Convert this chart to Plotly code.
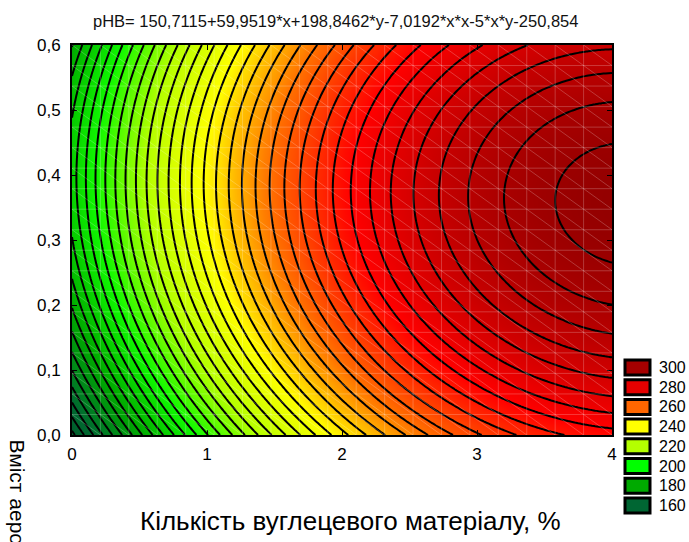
import numpy as np
import plotly.graph_objects as go

# Regression coefficients
coef_names = ["b0", "x", "y", "x*x", "x*y", "y*y"]
coef_values = [150.7115, 59.9519, 198.8462, -7.0192, -5.0, -250.854]

x_range = [0, 4]
y_range = [0, 0.6]
x_ticks = [0, 1, 2, 3, 4]
y_ticks = [0.0, 0.1, 0.2, 0.3, 0.4, 0.5, 0.6]

legend_levels = [300, 280, 260, 240, 220, 200, 180, 160]
legend_colors = ["#a50000", "#e60000", "#ff6600", "#ffff00",
                 "#b4ff00", "#00ff00", "#00aa00", "#006633"]

title_text = "pHB= 150,7115+59,9519*x+198,8462*y-7,0192*x*x-5*x*y-250,854"
x_title = "Кількість вуглецевого матеріалу, %"
y_title = "Вміст аеросилу, %"

mesh_n = 19  # mesh cells of the fitted surface (faint white lines)

xs = np.linspace(x_range[0], x_range[1], 161)
ys = np.linspace(y_range[0], y_range[1], 121)
X, Y = np.meshgrid(xs, ys)
b0, bx, by, bxx, bxy, byy = coef_values
Z = b0 + bx * X + by * Y + bxx * X * X + bxy * X * Y + byy * Y * Y

zmin, zmax = 150, 310
cs_points = [(150, "#005a2a"), (160, "#006a30"), (180, "#00a800"),
             (200, "#10f800"), (220, "#b4ff00"), (240, "#ffff00"),
             (260, "#ff7000"), (280, "#ff0000"), (300, "#b80000"),
             (310, "#940000")]
colorscale = [[(v - zmin) / (zmax - zmin), c] for v, c in cs_points]

fig = go.Figure()
fig.add_trace(go.Contour(
    x=xs, y=ys, z=Z,
    zmin=zmin, zmax=zmax,
    colorscale=colorscale,
    showscale=False,
    contours=dict(coloring="heatmap", start=148, end=320, size=4,
                  showlines=True),
    line=dict(color="black", width=2),
    hoverinfo="skip",
))

font_family = "Liberation Sans, Arial, sans-serif"

fig.update_layout(
    width=689, height=542,
    margin=dict(l=72, r=77, t=45, b=107),
    paper_bgcolor="white", plot_bgcolor="white",
    separators=", ",
    font=dict(family=font_family, color="black"),
    showlegend=False,
    xaxis=dict(range=x_range, tickvals=x_ticks, ticks="inside", ticklen=5,
               tickcolor="black", showline=True, linecolor="black",
               linewidth=2, mirror="ticks", showgrid=False, zeroline=False,
               tickfont=dict(size=17), tickformat="d", ticklabelstandoff=3),
    yaxis=dict(range=y_range, tickvals=y_ticks, ticks="inside", ticklen=5,
               tickcolor="black", showline=True, linecolor="black",
               linewidth=2, mirror="ticks", showgrid=False, zeroline=False,
               tickfont=dict(size=17), tickformat=".1f",
               ticklabelstandoff=6),
)

shapes = []
# faint mesh lines of the surface (vertical, horizontal, diagonal)
dx = (x_range[1] - x_range[0]) / mesh_n
dy = (y_range[1] - y_range[0]) / mesh_n
mesh_line = dict(color="rgba(255,255,255,0.22)", width=1)
for k in range(1, mesh_n):
    shapes.append(dict(type="line", xref="x", yref="y", layer="above",
                       x0=k * dx, x1=k * dx, y0=y_range[0], y1=y_range[1],
                       line=mesh_line))
    shapes.append(dict(type="line", xref="x", yref="y", layer="above",
                       x0=x_range[0], x1=x_range[1], y0=k * dy, y1=k * dy,
                       line=mesh_line))
for k in range(-mesh_n, mesh_n):
    shapes.append(dict(type="line", xref="x", yref="y", layer="above",
                       x0=k * dx, x1=(k + mesh_n) * dx,
                       y0=y_range[1], y1=y_range[0], line=mesh_line))

annotations = [
    dict(text=title_text, xref="paper", yref="paper",
         x=(91 - 72) / 540, y=(435 - 21) / 390, xanchor="left",
         yanchor="middle", showarrow=False,
         font=dict(size=16.5, color="#111")),
    dict(text=x_title, xref="paper", yref="paper",
         x=(350 - 72) / 540, y=(435 - 521) / 390, xanchor="center",
         yanchor="middle", showarrow=False, font=dict(size=26)),
    dict(text=y_title, xref="paper", yref="paper",
         x=(17 - 72) / 540, y=(435 - 437) / 390, xanchor="center",
         yanchor="top", textangle=90, showarrow=False,
         font=dict(size=21)),
]

top_px = 360
step_px = 19.7
for i, (lvl, col) in enumerate(zip(legend_levels, legend_colors)):
    y0 = top_px + i * step_px
    y1 = y0 + 15
    shapes.append(dict(type="rect", xref="paper", yref="paper",
                       x0=(625 - 72) / 540, x1=(650 - 72) / 540,
                       y0=(435 - y1) / 390, y1=(435 - y0) / 390,
                       fillcolor=col, line=dict(color="black", width=3)))
    annotations.append(dict(text=str(lvl), xref="paper", yref="paper",
                            x=(657 - 72) / 540, y=(435 - (y0 + 7.5)) / 390,
                            xanchor="left", yanchor="middle",
                            showarrow=False, font=dict(size=16)))

fig.update_layout(annotations=annotations, shapes=shapes)
fig.write_html("out.html")
